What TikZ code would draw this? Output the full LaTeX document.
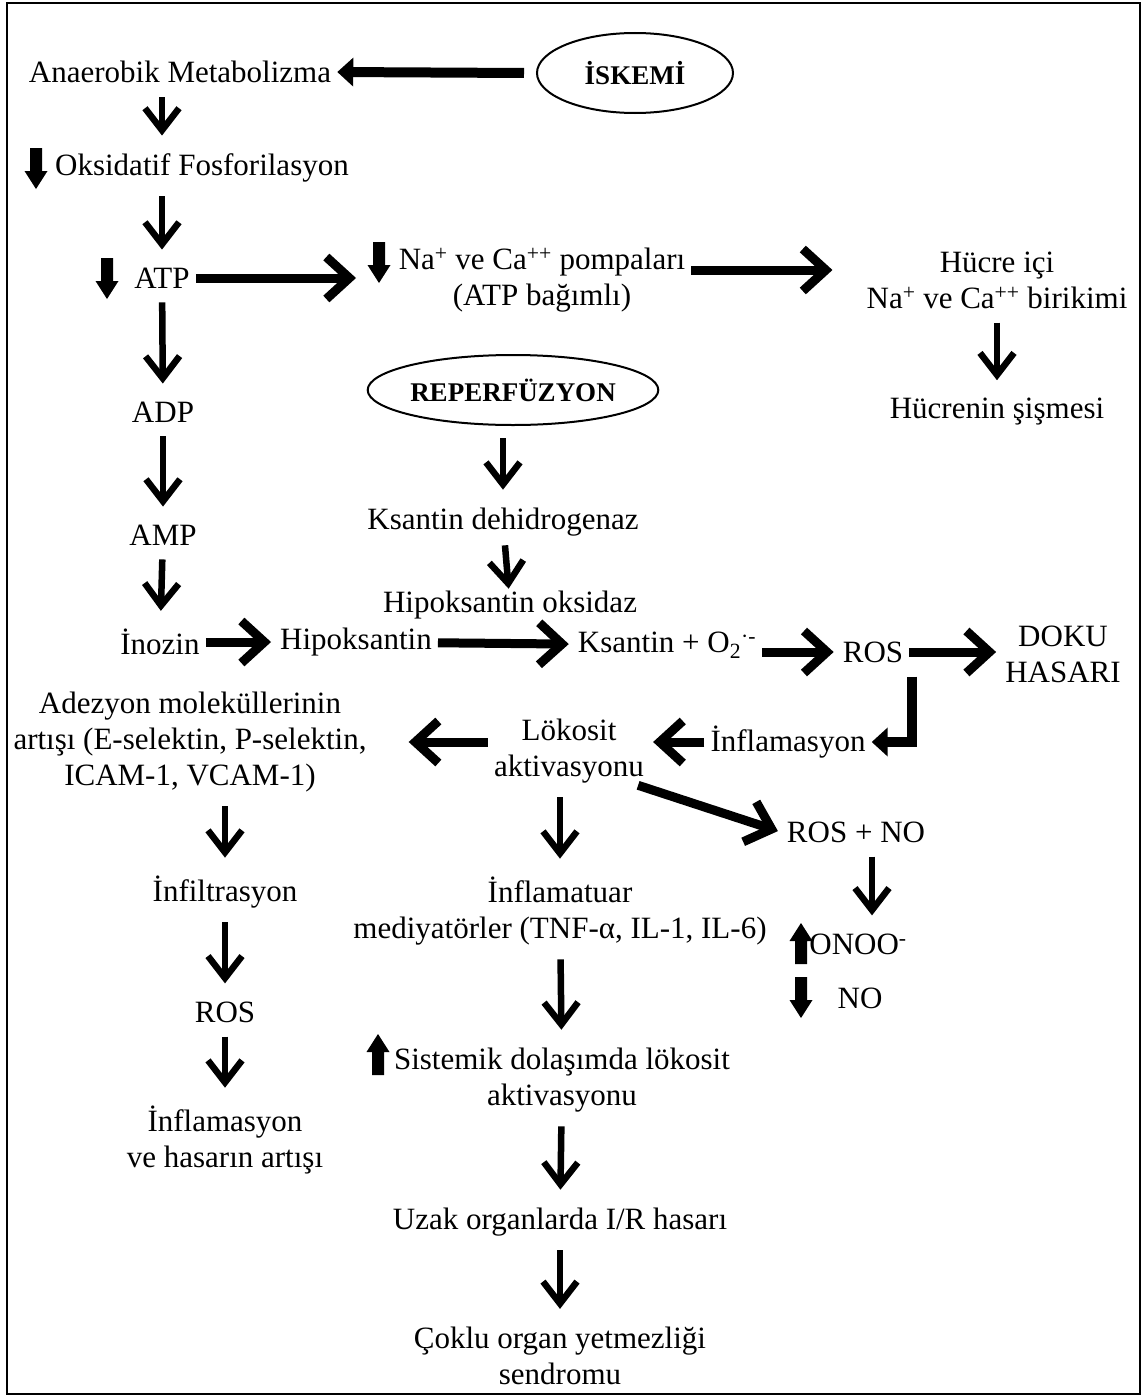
\documentclass[tikz,border=0pt]{standalone}
\usepackage{fontspec}
\setmainfont{Liberation Serif}
\usetikzlibrary{arrows.meta,shapes.geometric}

\begin{document}
\begin{tikzpicture}[x=1pt, y=-1pt,
    lbl/.style={font=\fontsize{31}{36}\selectfont, align=center, inner xsep=6pt, inner ysep=14pt},
    oval/.style={ellipse, draw, line width=2pt, inner sep=0pt, font=\fontsize{27}{30}\selectfont\bfseries},
    flow/.style={line width=6.5pt, shorten >=4pt, -{Straight Barb[length=22pt, width=34pt]}},
    wide/.style={line width=9pt, shorten >=3pt, -{Straight Barb[length=23pt, width=42pt]}},
    heavy/.style={line width=10pt, -{Triangle[length=16pt, width=28pt]}},
    dnblk/.pic={\fill (-6,-20) -- (6,-20) -- (6,3) -- (11.5,3) -- (0,21) -- (-11.5,3) -- (-6,3) -- cycle;},
    upblk/.pic={\fill (-6,20) -- (6,20) -- (6,-3) -- (11.5,-3) -- (0,-21) -- (-11.5,-3) -- (-6,-3) -- cycle;}
]

% Frame
\useasboundingbox (0,0) rectangle (1145,1397);
\draw[line width=2.5pt] (7,3) rectangle (1140,1394);

% Ischemia branch
\node[oval, minimum width=196pt, minimum height=80pt] (iskemi) at (635,73) {İSKEMİ};
\node[lbl] (anaer) at (180,72) {Anaerobik Metabolizma};
\pic at (36,168) {dnblk};
\node[lbl] (oksi) at (202,168) {Oksidatif Fosforilasyon};
\pic at (107,278) {dnblk};
\node[lbl] (atp) at (162,278) {ATP};
\node[lbl] (adp) at (163,412) {ADP};
\node[lbl] (amp) at (163,535) {AMP};
\node[lbl] (inoz) at (160,642) {İnozin};
\node[lbl] (hipo) at (356,642) {Hipoksantin};
\node[lbl] (ksan) at (667,645) {Ksantin + O\textsubscript{2}\textsuperscript{·-}};
\node[lbl] (ros) at (873,652) {ROS};
\node[lbl] (doku) at (1063,654) {DOKU\\HASARI};

% Pumps
\coordinate (pdn) at (379,262);
\pic at (pdn) {dnblk};
\node[lbl] (pompa) at (542,280) {Na\textsuperscript{+} ve Ca\textsuperscript{++} pompaları\\(ATP bağımlı)};
\node[lbl] (hucre) at (997,280) {Hücre içi\\Na\textsuperscript{+} ve Ca\textsuperscript{++} birikimi};
\node[lbl] (sisme) at (997,412) {Hücrenin şişmesi};

% Reperfusion branch
\node[oval, minimum width=248pt, minimum height=70pt] (reperf) at (513,390) {REPERFÜZYON};
\node[lbl] (kdh) at (503,522) {Ksantin dehidrogenaz};
\node[lbl] (hox) at (510,605) {Hipoksantin oksidaz};

% Inflammation
\node[lbl] (adez) at (190,742) {Adezyon moleküllerinin\\artışı (E-selektin, P-selektin,\\ICAM-1, VCAM-1)};
\node[lbl] (lokosit) at (569,751) {Lökosit\\aktivasyonu};
\node[lbl] (inflR) at (788,742) {İnflamasyon};
\node[lbl] (rosno) at (856,832) {ROS + NO};
\pic at (801,944) {upblk};
\node[lbl] (onoo) at (858,944) {ONOO\textsuperscript{-}};
\pic at (801,997) {dnblk};
\node[lbl] (no) at (860,998) {NO};
\node[lbl] (infil) at (225,892) {İnfiltrasyon};
\node[lbl] (rosL) at (225,1012) {ROS};
\node[lbl] (infh) at (225,1140) {İnflamasyon\\ve hasarın artışı};
\node[lbl] (infm) at (560,911) {İnflamatuar\\mediyatörler (TNF-α, IL-1, IL-6)};
\pic at (378,1055) {upblk};
\node[lbl] (sist) at (562,1080) {Sistemik dolaşımda lökosit\\aktivasyonu};
\node[lbl] (uzak) at (560,1222) {Uzak organlarda I/R hasarı};
\node[lbl] (coklu) at (560,1356) {Çoklu organ yetmezliği\\sendromu};

% Connectors
\draw[heavy] ([xshift=-12pt]iskemi.west) -- (anaer.east);
\draw[flow] (anaer.south -| atp) -- (oksi.north -| atp);
\draw[flow] (oksi.south -| atp) -- (atp);
\draw[wide] (atp) -- ([xshift=-20pt]pdn |- atp);
\draw[wide] ([yshift=10pt]pompa.east) -- ([xshift=-25pt,yshift=10pt]hucre.west);
\draw[flow] (hucre) -- (sisme);
\draw[flow] (atp) -- (adp);
\draw[flow] (adp) -- (amp);
\draw[flow] (amp) -- (inoz);
\draw[wide] (inoz) -- (hipo);
\draw[wide] (hipo) -- (ksan);
\draw[wide] (ksan.east |- ros) -- (ros);
\draw[wide] (ros) -- (doku.west |- ros);
\draw[heavy] ([xshift=39pt]ros.south) |- (inflR.east);
\draw[flow, shorten <=12pt] (reperf.south -| kdh) -- (kdh);
\draw[flow, shorten <=-5pt, shorten >=-12pt] (kdh) -- (hox);
\draw[wide] (inflR) -- (lokosit.east |- inflR);
\draw[wide] (lokosit.west |- inflR) -- ([xshift=33pt]adez.east);
\draw[wide] ([xshift=-12pt,yshift=12pt]lokosit.south east) -- (rosno.west);
\draw[flow] (lokosit.south -| infm) -- (infm);
\draw[flow] ([xshift=16pt]rosno.south) -- ([xshift=16pt]rosno.south |- onoo.north);
\draw[flow] (adez.south -| infil) -- (infil);
\draw[flow] (infil) -- (rosL);
\draw[flow] (rosL) -- (infh);
\draw[flow] (infm) -- (sist);
\draw[flow] (sist) -- (uzak);
\draw[flow] (uzak) -- (coklu);

\end{tikzpicture}
\end{document}
